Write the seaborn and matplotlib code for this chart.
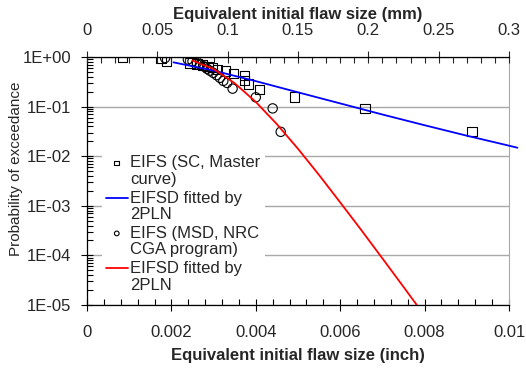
import numpy as np
import matplotlib
matplotlib.use("Agg")
import matplotlib.pyplot as plt
import seaborn as sns
from matplotlib.ticker import FixedLocator, LogLocator, FuncFormatter, NullFormatter, MultipleLocator

# EIFS data, SC master curve (inch, probability of exceedance)
sc_x = [0.00084, 0.00175, 0.00189, 0.00244, 0.00261, 0.00274, 0.00287, 0.00297, 0.00309,
        0.00329, 0.00347, 0.00373, 0.00374, 0.00382, 0.00408, 0.00492, 0.00659, 0.00912]
sc_p = [0.97, 0.92, 0.82, 0.76, 0.72, 0.69, 0.65, 0.61, 0.565,
        0.52, 0.47, 0.43, 0.34, 0.285, 0.22, 0.156, 0.092, 0.031]

# EIFS data, MSD / NRC CGA program
msd_x = [0.00185, 0.00239, 0.00250, 0.00260, 0.00268, 0.00276, 0.00284, 0.00291, 0.00299,
         0.00307, 0.00315, 0.00323, 0.00332, 0.00345, 0.00400, 0.00440, 0.00459]
msd_p = [0.955, 0.89, 0.82, 0.76, 0.70, 0.65, 0.58, 0.53, 0.48,
         0.43, 0.38, 0.33, 0.30, 0.23, 0.154, 0.092, 0.031]

# fitted 2PLN curves
blue_x = [0.00205, 0.003, 0.004, 0.005, 0.006, 0.007, 0.008, 0.009, 0.010, 0.0102]
blue_p = [0.78, 0.532, 0.326, 0.194, 0.116, 0.0693, 0.0421, 0.0259, 0.0163, 0.0148]

red_x = [0.0025, 0.003, 0.0035, 0.004, 0.0045, 0.005, 0.0055, 0.006, 0.0065, 0.007, 0.0075, 0.008]
red_p = [0.849, 0.573, 0.296, 0.124, 0.0442, 0.0141, 0.00417, 0.00117, 3.24e-4, 8.7e-5, 2.32e-5, 6.1e-6]

x_ticks = [0, 0.002, 0.004, 0.006, 0.008, 0.01]
x_ticklabels = ["0", "0.002", "0.004", "0.006", "0.008", "0.01"]
mm_ticks = [0, 0.05, 0.1, 0.15, 0.2, 0.25, 0.3]
mm_ticklabels = ["0", "0.05", "0.1", "0.15", "0.2", "0.25", "0.3"]

sns.set_style("ticks")
plt.rcParams["font.family"] = ["Liberation Sans", "DejaVu Sans"]
plt.rcParams["font.size"] = 12

fig = plt.figure(figsize=(5.26, 3.75), dpi=100)
ax = fig.add_axes([87 / 526, 70 / 375, 422 / 526, 248 / 375])

sns.scatterplot(x=sc_x, y=sc_p, marker="s", s=45, facecolor="none", edgecolor="black",
                linewidth=0.8, ax=ax, label="EIFS (SC, Master\ncurve)", zorder=3)
sns.lineplot(x=blue_x, y=blue_p, color="#0000ff", lw=1.3, ax=ax,
             label="EIFSD fitted by\n2PLN", clip_on=False, zorder=4)
sns.scatterplot(x=msd_x, y=msd_p, marker="o", s=45, facecolor="none", edgecolor="black",
                linewidth=0.8, ax=ax, label="EIFS (MSD, NRC\nCGA program)", zorder=3)
sns.lineplot(x=red_x, y=red_p, color="#ff0000", lw=1.3, ax=ax,
             label="EIFSD fitted by\n2PLN", zorder=4)

ax.set_yscale("log")
ax.set_ylim(1e-5, 1)
ax.set_xlim(0, 0.01)
ax.set_xticks(x_ticks)
ax.set_xticklabels(x_ticklabels)
ax.xaxis.set_minor_locator(MultipleLocator(0.0004))
ax.yaxis.set_major_locator(FixedLocator([1e-5, 1e-4, 1e-3, 1e-2, 1e-1, 1]))
ax.yaxis.set_minor_locator(LogLocator(base=10, subs=np.arange(2, 10)))
ax.yaxis.set_minor_formatter(NullFormatter())
ax.yaxis.set_major_formatter(FuncFormatter(lambda v, p: "1E{:+03d}".format(int(round(np.log10(v))))))
ax.grid(axis="y", which="major", color="#a8a8a8", lw=1.0)
ax.tick_params(which="major", direction="inout", length=9, width=0.8, labelsize=12, color="black")
ax.tick_params(axis="x", which="major", pad=10)
ax.tick_params(axis="y", which="major", pad=7)
ax.tick_params(which="minor", direction="in", length=4, width=0.8, color="black")
ax.tick_params(top=False, right=False, which="both")

ax.set_xlabel("Equivalent initial flaw size (inch)", fontweight="bold", fontsize=12, labelpad=6)
ax.set_ylabel("Probability of exceedance", fontsize=11)
ax.yaxis.set_label_coords(-0.152, 0.55)

for s in ["left", "bottom"]:
    ax.spines[s].set_color("black")
    ax.spines[s].set_linewidth(0.9)
ax.spines["right"].set_color("#a8a8a8")
ax.spines["top"].set_visible(False)

# secondary axis in mm
ax2 = ax.twiny()
ax2.set_xlim(0, 0.3)
ax2.set_xticks(mm_ticks)
ax2.set_xticklabels(mm_ticklabels)
ax2.xaxis.set_minor_locator(MultipleLocator(0.01))
ax2.tick_params(which="major", direction="inout", length=9, width=0.8, labelsize=12, pad=9)
ax2.tick_params(which="minor", direction="in", length=4, width=0.8)
ax2.set_xlabel("Equivalent initial flaw size (mm)", fontweight="bold", fontsize=12, labelpad=3)
for s in ["left", "bottom", "right"]:
    ax2.spines[s].set_visible(False)
ax2.spines["top"].set_color("black")
ax2.spines["top"].set_linewidth(0.9)

handles, labels = ax.get_legend_handles_labels()
leg = ax.legend(handles, labels, loc="upper left", bbox_to_anchor=(0.035, 0.62),
                frameon=True, fancybox=False, framealpha=1, facecolor="white", edgecolor="none",
                fontsize=12, handlelength=1.3, handleheight=1.2, handletextpad=0.15,
                labelspacing=0.2, borderpad=0.25, borderaxespad=0, markerscale=0.5)
leg.set_zorder(5)
for t in leg.get_texts():
    t.set_linespacing(1.15)
# put each handle next to the first line of its label
for col in leg._legend_handle_box.get_children():
    for item in col.get_children():
        item.align = "top"

fig.savefig("out.png", dpi=100)
